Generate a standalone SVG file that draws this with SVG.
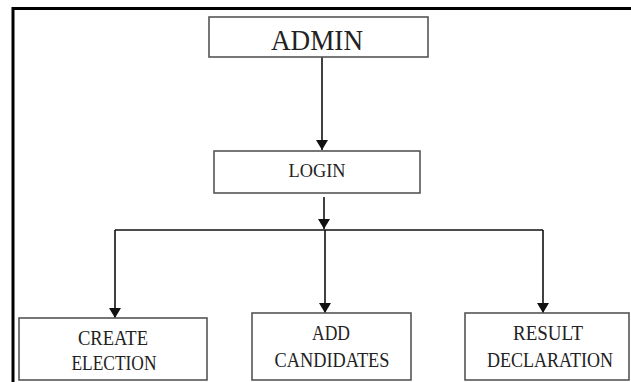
<svg xmlns="http://www.w3.org/2000/svg" width="631" height="382" viewBox="0 0 631 382">
<style>
.box{fill:#fff;stroke:#555;stroke-width:1.6}
text{font-family:'Liberation Serif','Times New Roman',Times,serif;fill:#222;text-anchor:middle}
.c{fill:none;stroke:#111;stroke-width:1.6}
</style>
<defs>
<marker id="ah" viewBox="0 0 10 12" refX="10" refY="6" markerWidth="10" markerHeight="12" markerUnits="userSpaceOnUse" orient="auto">
<path d="M0,0 L10,6 L0,12 Z" fill="#111"/>
</marker>
</defs>
<rect width="631" height="382" fill="#fff"/>
<path d="M13,382 V8.5 H631" fill="none" stroke="#000" stroke-width="3"/>
<g id="connectors">
<line class="c" x1="322" y1="57" x2="322" y2="150" marker-end="url(#ah)"/>
<line class="c" x1="324" y1="197" x2="324" y2="229" marker-end="url(#ah)"/>
<line class="c" x1="115" y1="230" x2="543" y2="230" stroke="#444"/>
<line class="c" x1="115" y1="230" x2="115" y2="318" marker-end="url(#ah)"/>
<line class="c" x1="325" y1="230" x2="325" y2="313" marker-end="url(#ah)"/>
<line class="c" x1="543" y1="230" x2="543" y2="313" marker-end="url(#ah)"/>
</g>
<g id="admin" font-family="Liberation Serif, serif">
<rect class="box" x="209" y="17" width="219" height="40"/>
<text x="317" y="50" font-size="29" textLength="92" lengthAdjust="spacingAndGlyphs">ADMIN</text>
</g>
<g id="login" font-family="Liberation Serif, serif">
<rect class="box" x="214" y="151" width="206" height="42"/>
<text x="317" y="177" font-size="19" textLength="57" lengthAdjust="spacingAndGlyphs">LOGIN</text>
</g>
<g id="create-election" font-family="Liberation Serif, serif">
<rect class="box" x="19" y="318" width="188" height="62"/>
<text x="113" y="345" font-size="20" textLength="70" lengthAdjust="spacingAndGlyphs">CREATE</text>
<text x="114" y="370" font-size="20" textLength="85" lengthAdjust="spacingAndGlyphs">ELECTION</text>
</g>
<g id="add-candidates" font-family="Liberation Serif, serif">
<rect class="box" x="252" y="313" width="159" height="67"/>
<text x="331" y="340" font-size="20" textLength="38" lengthAdjust="spacingAndGlyphs">ADD</text>
<text x="332" y="367" font-size="20" textLength="115" lengthAdjust="spacingAndGlyphs">CANDIDATES</text>
</g>
<g id="result-declaration" font-family="Liberation Serif, serif">
<rect class="box" x="465" y="313" width="164" height="67"/>
<text x="548" y="340" font-size="20" textLength="70" lengthAdjust="spacingAndGlyphs">RESULT</text>
<text x="550" y="367" font-size="20" textLength="126" lengthAdjust="spacingAndGlyphs">DECLARATION</text>
</g>
</svg>
